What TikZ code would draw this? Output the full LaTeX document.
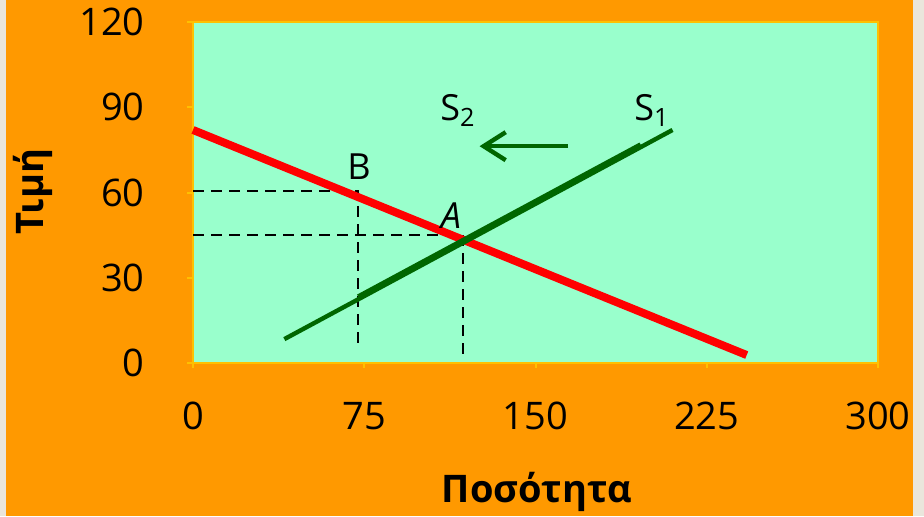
\documentclass[tikz,border=0pt]{standalone}
\usepackage{fontspec}
\setmainfont{Open Sans}
\usetikzlibrary{arrows.meta}

\definecolor{bgorange}{RGB}{255,153,0}
\definecolor{plotgreen}{RGB}{153,255,204}
\definecolor{framey}{RGB}{255,192,0}
\definecolor{supgreen}{RGB}{0,102,0}
\definecolor{sidegray}{RGB}{234,230,220}

\tikzset{
  demand/.style={line width=4pt, red},
  supply/.style={line width=2.2pt, supgreen},
  guide/.style={line width=1.2pt, dash pattern=on 5.5pt off 3.5pt},
  ticklbl/.style={font=\fontsize{19}{22}\selectfont, inner sep=0pt},
  axlbl/.style={font=\fontsize{19}{22}\selectfont\bfseries, inner sep=0pt},
  ptlbl/.style={font=\fontsize{18}{22}\selectfont, inner sep=0pt}
}

\begin{document}
\begin{tikzpicture}[x=0.5pt, y=0.5pt]

    % Background
    \useasboundingbox (0,0) rectangle (924,516);
    \fill[sidegray] (0,0) rectangle (924,516);
    \fill[bgorange] (6,0) rectangle (913,516);

    \begin{scope}[xshift=96.5pt, yshift=76.5pt, x=1.14167pt, y=1.42083pt]

    % Plot area
    \fill[plotgreen] (0,0) rectangle (300,120);
    \draw[framey, line width=1pt] (0,0) rectangle (300,120);

    % Axes (ticks and labels)
    \foreach \v in {0,30,60,90,120} {
        \draw[framey, line width=1pt] (0,\v) -- ++(-3pt,0);
        \node[ticklbl, anchor=east] (y\v) at ([xshift=-24pt]0,\v) {\v};
    }
    \foreach \v in {0,75,150,225,300} {
        \draw[framey, line width=1pt] (\v,0) -- ++(0,-2.5pt);
        \node[ticklbl] (x\v) at ([yshift=-26.5pt]\v,0) {\v};
    }
    \node[axlbl, rotate=90] (ylab) at (-70.1,60.2) {Τιμή};
    \node[axlbl] (xlab) at (150.7,-45.4) {Ποσότητα};

    % Curves
    \coordinate (d0) at (0,82);
    \coordinate (d1) at (242.5,2.8);
    \coordinate (s0) at (40,8.4);
    \coordinate (s1) at (210,82);
    \coordinate (t0) at (72.3,23.4);
    \coordinate (t1) at (196,76.9);

    % Guides to A and B
    \coordinate (pB) at (72.3,60.5);
    \coordinate (pA) at (118.2,45);
    \draw[guide] (0,60.5) -- (pB) -- (72.3,4.9);
    \draw[guide] (0,45) -- (pA) -- (118.2,2.8);

    \draw[demand] (d0) -- (d1);
    \draw[supply] (s0) -- (s1);
    \draw[supply] (t0) -- (t1);

    % Labels
    \node[ptlbl] (B) at (72.7,69) {B};
    \node[ptlbl] (A) at (113,52) {\itshape A};
    \node[ptlbl, anchor=base west] (S2) at (108.2,85.5) {S\textsubscript{2}};
    \node[ptlbl, anchor=base west] (S1) at (193.1,85.5) {S\textsubscript{1}};

    % Shift arrow
    \coordinate (ar0) at (164.3,76.3);
    \coordinate (ar1) at (125.5,76.3);
    \draw[supply, -{Straight Barb[length=11pt, width=14pt]}] (ar0) -- (ar1);

    \end{scope}

\end{tikzpicture}
\end{document}
